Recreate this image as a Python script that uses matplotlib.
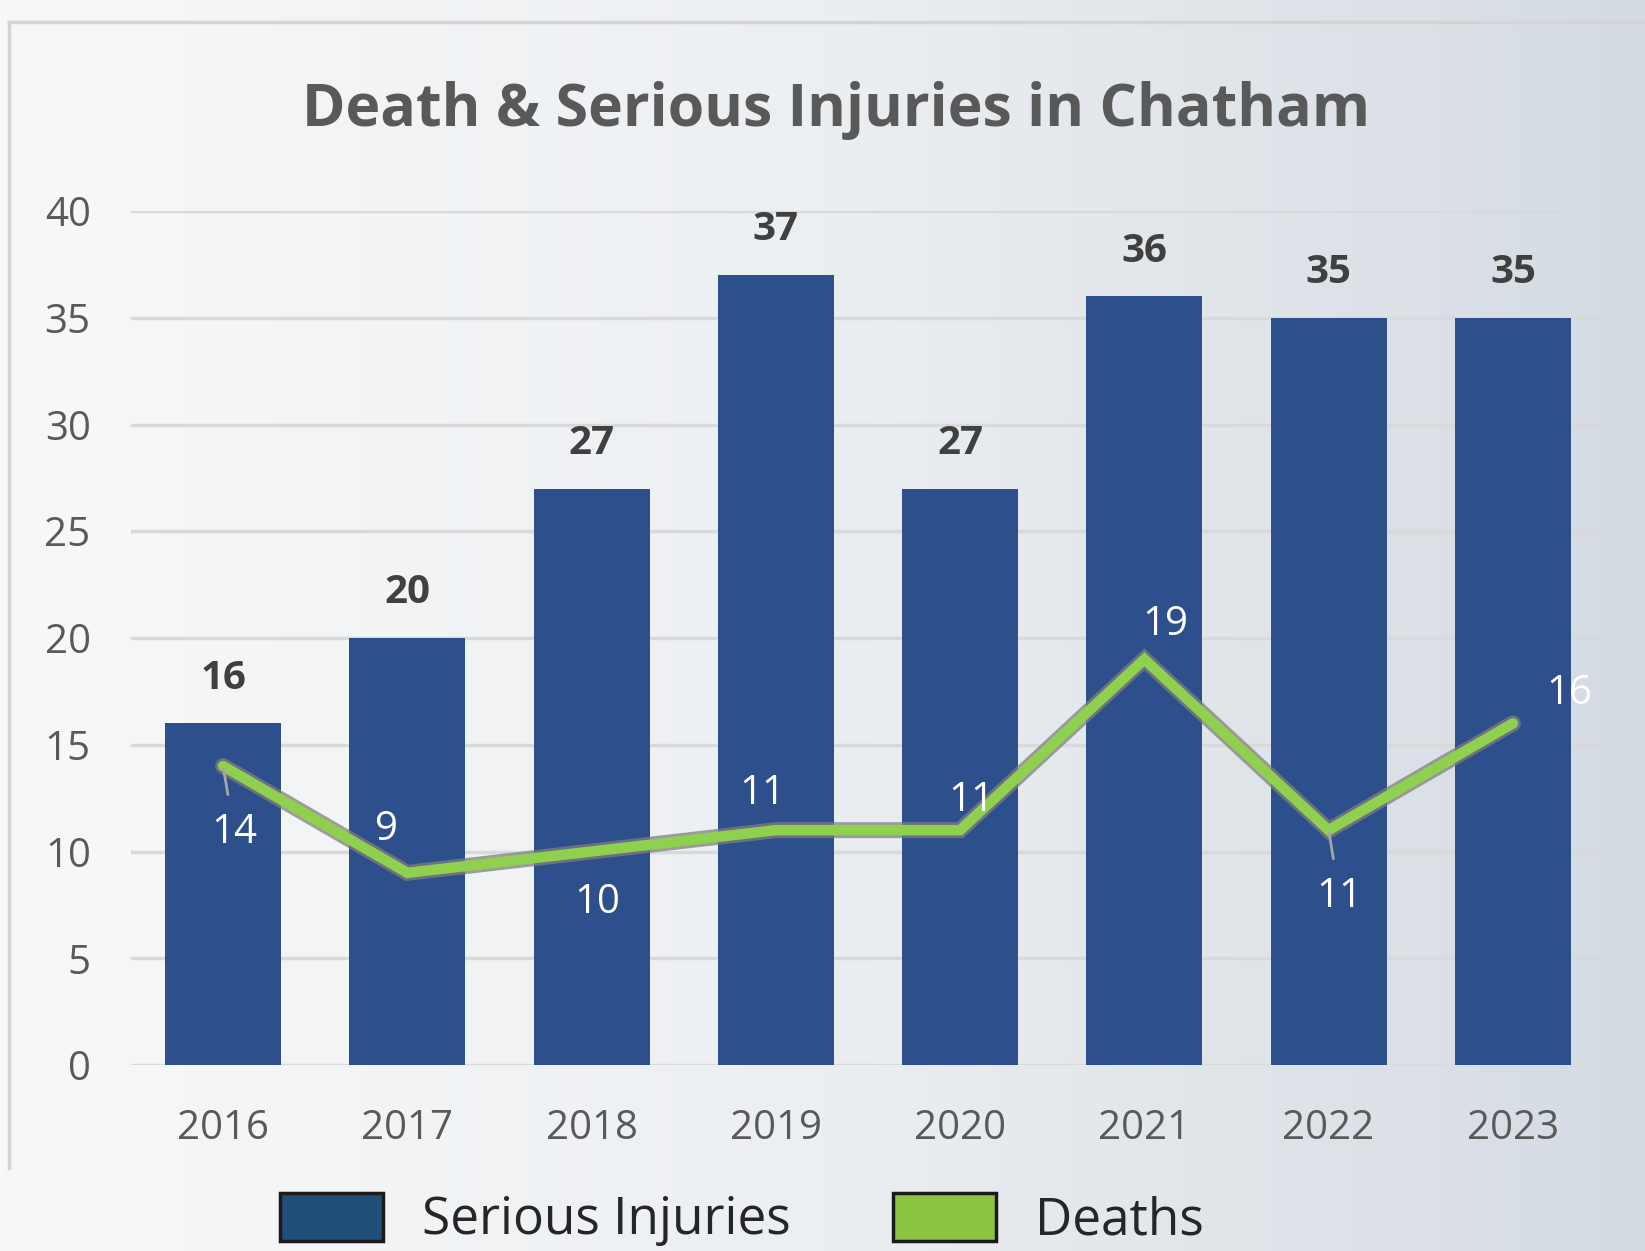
import numpy as np
import matplotlib.pyplot as plt
import matplotlib.patheffects as pe
from matplotlib.patches import Patch
from matplotlib.colors import LinearSegmentedColormap

# Data
years = ['2016', '2017', '2018', '2019', '2020', '2021', '2022', '2023']
serious_injuries = [16, 20, 27, 37, 27, 36, 35, 35]
deaths = [14, 9, 10, 11, 11, 19, 11, 16]

# where each deaths label sits relative to its point (points), and which get a leader line
death_label_offsets = [(8, -48), (-15, 31), (4, -37), (-10, 26), (8, 21), (15, 25), (8, -48), (41, 21)]
death_leaders = [True, False, False, False, False, False, True, False]

plt.rcParams['font.family'] = ['Open Sans', 'DejaVu Sans']

W, H = 1645, 1251
fig = plt.figure(figsize=(W / 100, H / 100), dpi=100)

# Background gradient and frame lines
bg = fig.add_axes([0, 0, 1, 1], zorder=-10)
cmap = LinearSegmentedColormap.from_list('bg', ['#f7f8f9', '#eceff2', '#d4dbe2'])
bg.imshow(np.linspace(0, 1, 256).reshape(1, -1), aspect='auto', cmap=cmap,
          extent=[0, 1, 0, 1])
bg.plot([9 / W, 1], [1 - 22 / H] * 2, color='#d4d4d4', lw=2.5)
bg.plot([9 / W] * 2, [1 - 22 / H, 1 - 1168 / H], color='#d4d4d4', lw=2.5)
bg.set_xlim(0, 1)
bg.set_ylim(0, 1)
bg.axis('off')

# Main chart
ax = fig.add_axes([131 / W, 186 / H, (1605 - 131) / W, (1065 - 211) / H])
ax.set_facecolor('none')
x = np.arange(len(years))

bars = ax.bar(x, serious_injuries, width=0.63, color='#2d4f8c', zorder=2)
ax.bar_label(bars, padding=18.5, fontsize=29, fontweight='bold', color='#404040')

ax.plot(x, deaths, color='#8fd14f', lw=7.5, solid_capstyle='round',
        solid_joinstyle='miter', zorder=3,
        path_effects=[pe.Stroke(linewidth=11.5, foreground='#7f7f7f', alpha=0.75),
                      pe.Normal()])

for xi, d, off, lead in zip(x, deaths, death_label_offsets, death_leaders):
    arrow = dict(arrowstyle='-', color='#a6a6a6', lw=2, shrinkA=11, shrinkB=2) if lead else None
    ax.annotate(str(d), (xi, d), xytext=off, textcoords='offset points',
                ha='center', va='center', fontsize=29, color='white',
                arrowprops=arrow, zorder=4)

ax.set_xlim(-0.5, len(years) - 0.5)
ax.set_ylim(0, 40)
ax.set_yticks(range(0, 41, 5))
ax.set_xticks(x, years)
ax.tick_params(axis='both', length=0, labelsize=29, colors='#595959')
ax.tick_params(axis='y', pad=29)
ax.tick_params(axis='x', pad=31)
ax.yaxis.grid(True, color='#d9d9d9', lw=2.5)
ax.set_axisbelow(True)
for s in ax.spines.values():
    s.set_visible(False)

fig.text(836 / W, 1 - 111 / H, 'Death & Serious Injuries in Chatham',
         ha='center', va='center', fontsize=42.5, fontweight='bold', color='#595959')

handles = [Patch(facecolor='#1f4e79', edgecolor='#1a1a1a', lw=2.5),
           Patch(facecolor='#8cc33f', edgecolor='#1a1a1a', lw=2.5)]
fig.legend(handles, ['Serious Injuries', 'Deaths'], loc='center',
           bbox_to_anchor=(0.451, 0.025), ncol=2, frameon=False, fontsize=37,
           handlelength=2.0, handleheight=1.05, handletextpad=0.75,
           columnspacing=2.0, labelcolor='#262626')

plt.savefig('out.png', dpi=100)
